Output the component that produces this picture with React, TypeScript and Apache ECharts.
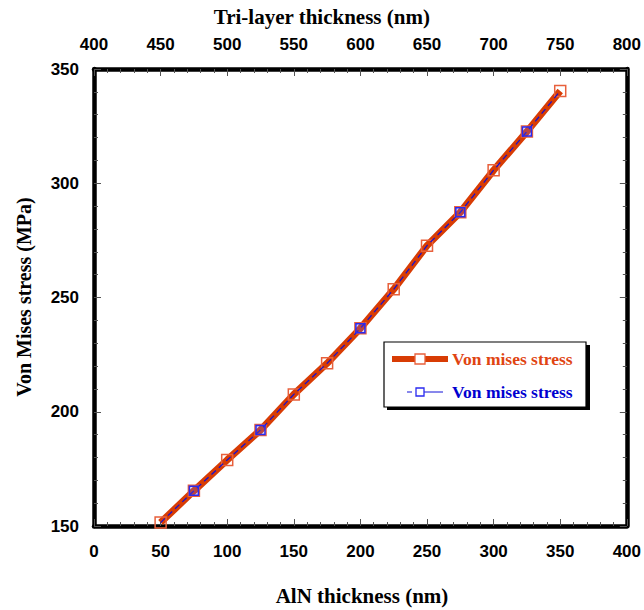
import React, { useEffect, useRef } from "react";
import * as echarts from "echarts";

const alnThickness = [50, 75, 100, 125, 150, 175, 200, 225, 250, 275, 300, 325, 350];
const stressA = [151.5, 165.4, 178.9, 192.0, 207.6, 221.2, 236.5, 253.6, 272.7, 287.3, 305.7, 322.6, 340.4];
const stressB = [151.5, 165.4, 178.9, 192.0, 207.6, 221.2, 236.5, 253.6, 272.7, 287.3, 305.7, 322.6, 340.4];
const stressBMarked = [75, 125, 200, 275, 325];
const seriesNames = ["Von mises stress", "Von mises stress"];
const xTitle = "AlN thickness (nm)";
const x2Title = "Tri-layer thickness (nm)";
const yTitle = "Von Mises stress (MPa)";

const ORANGE = "#d83c04";
const ORANGE_MK = "#e8603c";
const BLUE = "#1010d8";

const tickFont = {
  fontFamily: "'Liberation Sans', Arial, sans-serif",
  fontWeight: "bold" as const,
  fontSize: 17,
  color: "#000",
};
const titleFont = "'Liberation Serif', 'Times New Roman', serif";

export default function App() {
  const ref = useRef<HTMLDivElement>(null);
  useEffect(() => {
    if (!ref.current) return;
    const chart = echarts.init(ref.current, null, { renderer: "svg" });
    const axisLine = { show: true, onZero: false, lineStyle: { color: "#000", width: 4.5 } };
    const axisTick = { show: true, inside: true, length: 7, lineStyle: { color: "#555", width: 1 } };
    const minorTick = { show: true, splitNumber: 5, length: 4, lineStyle: { color: "#555", width: 1 } };
    chart.setOption({
      animation: false,
      backgroundColor: "#fff",
      grid: { left: 94, right: 15, top: 69, bottom: 84 },
      xAxis: [
        {
          type: "value", min: 0, max: 400, interval: 50, position: "bottom",
          axisLine, axisTick, minorTick, splitLine: { show: false },
          axisLabel: { ...tickFont, margin: 17 },
        },
        {
          type: "value", min: 400, max: 800, interval: 50, position: "top",
          axisLine, axisTick, minorTick, splitLine: { show: false },
          axisLabel: { ...tickFont, margin: 16 },
        },
      ],
      yAxis: [
        {
          type: "value", min: 150, max: 350, interval: 50, position: "left",
          axisLine, axisTick, minorTick, splitLine: { show: false },
          axisLabel: { ...tickFont, margin: 15 },
        },
        {
          type: "value", min: 150, max: 350, interval: 50, position: "right",
          axisLine, axisTick, minorTick, splitLine: { show: false },
          axisLabel: { show: false },
        },
      ],
      series: [
        {
          name: seriesNames[0],
          type: "line",
          xAxisIndex: 0, yAxisIndex: 0,
          data: alnThickness.map((x, i) => [x, stressA[i]]),
          symbol: "rect",
          symbolSize: 11,
          showAllSymbol: true,
          lineStyle: { color: ORANGE, width: 7 },
          itemStyle: { color: "rgba(255,255,255,0)", borderColor: ORANGE_MK, borderWidth: 1.5 },
          z: 2,
        },
        {
          name: seriesNames[1],
          type: "line",
          xAxisIndex: 0, yAxisIndex: 0,
          data: alnThickness.map((x, i) => ({
            value: [x, stressB[i]],
            symbol: stressBMarked.includes(x) ? "rect" : "none",
          })),
          symbol: "rect",
          symbolSize: 9,
          showAllSymbol: true,
          lineStyle: { color: BLUE, width: 1.2, type: [6, 4] },
          itemStyle: { color: "rgba(90,90,255,0.25)", borderColor: "#2a2af0", borderWidth: 1.5 },
          z: 3,
        },
      ],
      graphic: [
        {
          type: "text", left: "center", top: 6,
          style: { text: x2Title, font: `bold 21px ${titleFont}`, fill: "#000" },
        },
        {
          type: "text", x: 362, y: 596,
          style: { text: xTitle, font: `bold 21px ${titleFont}`, fill: "#000", align: "center", verticalAlign: "middle" },
        },
        {
          type: "text", x: 24, y: 297, rotation: Math.PI / 2,
          style: { text: yTitle, font: `bold 20px ${titleFont}`, fill: "#000", align: "center", verticalAlign: "middle" },
        },
        // legend
        { type: "rect", shape: { x: 387, y: 345, width: 203, height: 65 }, style: { fill: "#000" }, z: 10 },
        { type: "rect", shape: { x: 384, y: 342, width: 202, height: 65 }, style: { fill: "#fff", stroke: "#000", lineWidth: 1.2 }, z: 11 },
        { type: "line", shape: { x1: 392, y1: 359, x2: 448, y2: 359 }, style: { stroke: ORANGE, lineWidth: 6 }, z: 12 },
        { type: "rect", shape: { x: 415, y: 354, width: 10, height: 10 }, style: { fill: "#fff", stroke: ORANGE_MK, lineWidth: 1.3 }, z: 13 },
        {
          type: "text", x: 452, y: 359, z: 13,
          style: { text: seriesNames[0], font: `bold 17.5px ${titleFont}`, fill: "#e04412", verticalAlign: "middle" },
        },
        { type: "line", shape: { x1: 407, y1: 392, x2: 412, y2: 392 }, style: { stroke: BLUE, lineWidth: 1 }, z: 12 },
        { type: "line", shape: { x1: 424, y1: 392, x2: 443, y2: 392 }, style: { stroke: BLUE, lineWidth: 1 }, z: 12 },
        { type: "rect", shape: { x: 416, y: 388, width: 8, height: 8 }, style: { fill: "#fff", stroke: "#2a2af0", lineWidth: 1.3 }, z: 13 },
        {
          type: "text", x: 452, y: 392, z: 13,
          style: { text: seriesNames[1], font: `bold 17.5px ${titleFont}`, fill: "#0000d0", verticalAlign: "middle" },
        },
      ],
    });
    return () => chart.dispose();
  }, []);
  return <div ref={ref} style={{ width: 644, height: 610, position: "absolute", left: 0, top: 0 }} />;
}
